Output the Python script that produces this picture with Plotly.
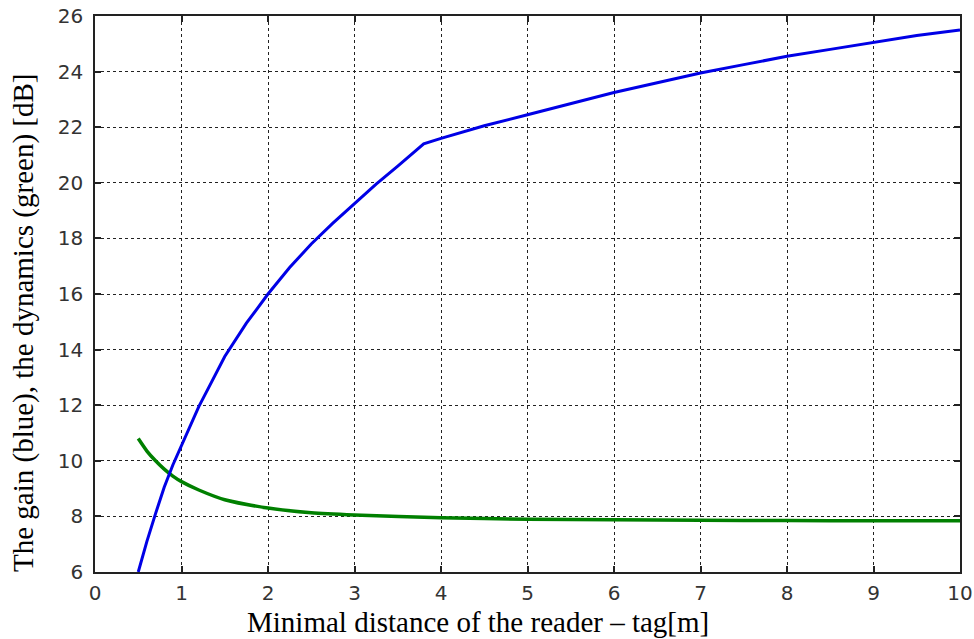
import plotly.graph_objects as go

# Gain (blue)
gain_x = [0.5, 0.6, 0.7, 0.8, 0.9, 1.0, 1.1, 1.2, 1.35, 1.5, 1.75, 2.0, 2.25, 2.5, 2.75,
          3.0, 3.25, 3.5, 3.8, 4.0, 4.5, 5.0, 5.5, 6.0, 6.5, 7.0, 7.5, 8.0, 8.5, 9.0, 9.5, 10.0]
gain_y = [6.0, 7.1, 8.1, 9.05, 9.85, 10.55, 11.3, 11.95, 12.85, 13.75, 14.95, 16.0, 16.95, 17.8, 18.55,
          19.25, 19.95, 20.6, 21.4, 21.6, 22.05, 22.45, 22.85, 23.25, 23.6, 23.95, 24.25, 24.55, 24.8,
          25.05, 25.3, 25.5]

# Dynamics (green)
dyn_x = [0.5, 0.6, 0.7, 0.8, 0.9, 1.0, 1.2, 1.5, 2.0, 2.5, 3.0, 4.0, 5.0, 6.0, 7.0, 8.0, 9.0, 10.0]
dyn_y = [10.8, 10.35, 10.0, 9.7, 9.45, 9.25, 8.95, 8.6, 8.3, 8.13, 8.05, 7.95, 7.9, 7.88, 7.86, 7.85,
         7.84, 7.84]

x_ticks = list(range(0, 11))
y_ticks = list(range(6, 27, 2))

fig = go.Figure()
fig.add_trace(go.Scatter(x=dyn_x, y=dyn_y, mode="lines",
                         line=dict(color="rgb(0,128,0)", width=3.5, shape="spline", smoothing=0.6),
                         showlegend=False))
fig.add_trace(go.Scatter(x=gain_x, y=gain_y, mode="lines",
                         line=dict(color="rgb(0,0,230)", width=3), showlegend=False))

axis_common = dict(
    showline=True, linecolor="#222", linewidth=1.5, mirror="ticks",
    ticks="inside", ticklen=6, tickcolor="#222", tickwidth=1.5,
    showgrid=True, gridcolor="#222", griddash="dot", gridwidth=1,
    zeroline=False, automargin=False,
    tickfont=dict(family="DejaVu Sans", size=20, color="#333"),
)

fig.update_xaxes(range=[0, 10], tickvals=x_ticks, ticklabelstandoff=2, **axis_common)
fig.update_yaxes(range=[6, 26], tickvals=y_ticks, ticklabelstandoff=6, **axis_common)

fig.update_layout(
    width=974, height=639,
    margin=dict(l=95, r=14, t=16, b=67, autoexpand=False),
    plot_bgcolor="white", paper_bgcolor="white",
    annotations=[
        dict(text="Minimal distance of the reader – tag[m]", xref="paper", yref="paper",
             x=(478 - 95) / 865, y=-(622 - 572) / 556, xanchor="center", yanchor="middle",
             showarrow=False, font=dict(family="Liberation Serif", size=29, color="black")),
        dict(text="The gain (blue), the dynamics (green) [dB]", xref="paper", yref="paper",
             x=-(95 - 23) / 865, y=(572 - 323) / 556, xanchor="center", yanchor="middle",
             textangle=-90, showarrow=False,
             font=dict(family="Liberation Serif", size=29, color="black")),
    ],
)

fig.write_html(
    "out.html",
    config={"displayModeBar": False},
    post_script="document.body.style.margin='0px';document.body.style.overflow='hidden';",
)
